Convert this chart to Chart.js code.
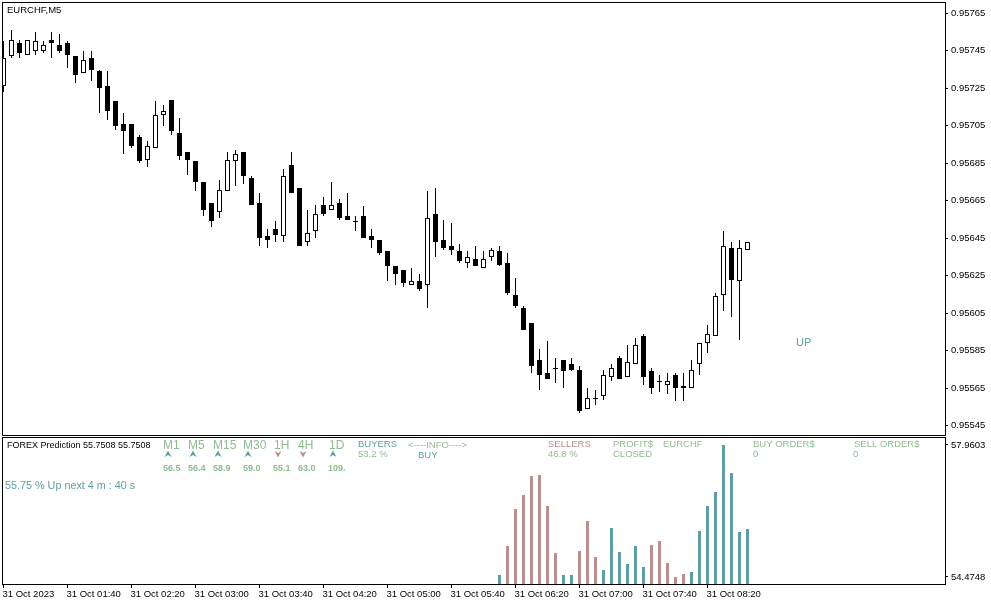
<!DOCTYPE html>
<html>
<head>
<meta charset="utf-8">
<title>EURCHF,M5</title>
<script src="https://cdn.jsdelivr.net/npm/chart.js@4/dist/chart.umd.min.js"></script>
<style>
  html, body { margin: 0; padding: 0; background: #fff; overflow: hidden; }
  canvas { position: absolute; left: 0; display: block; }
  #priceChart { top: 0; }
  #predictionChart { top: 436px; }
</style>
</head>
<body>
<canvas id="priceChart" width="991" height="436"></canvas>
<canvas id="predictionChart" width="991" height="169"></canvas>
<script>
// candles, prices in points (1 point = 0.00001)
const opens = [95726, 95742, 95749, 95743, 95745, 95745, 95751, 95748, 95749, 95742, 95733, 95741, 95734, 95726, 95718, 95706, 95706, 95699, 95687, 95693, 95711, 95719, 95701, 95691,
  95686, 95675, 95664, 95659, 95670, 95686, 95691, 95677, 95664, 95646, 95650, 95646, 95684, 95672, 95643, 95649, 95663, 95660, 95664, 95657, 95654, 95657, 95646,
  95644, 95638, 95630, 95628, 95620, 95622, 95620, 95658, 95644, 95641, 95638, 95632, 95634, 95629, 95635, 95638, 95632, 95615, 95608, 95600, 95580, 95573, 95576, 95580,
  95578, 95575, 95554, 95560, 95561, 95571, 95581, 95571, 95578, 95593, 95574, 95569, 95567, 95572, 95565, 95565, 95578, 95589, 95593, 95615, 95640, 95622, 95639];
const highs = [95750, 95756, 95751, 95751, 95755, 95750, 95755, 95754, 95750, 95742, 95745, 95745, 95735, 95734, 95718, 95712, 95706, 95700, 95697, 95718, 95716, 95719, 95709, 95691,
  95686, 95675, 95664, 95676, 95691, 95692, 95691, 95678, 95669, 95650, 95654, 95682, 95691, 95672, 95660, 95663, 95667, 95675, 95666, 95669, 95657, 95662, 95650,
  95644, 95638, 95630, 95628, 95629, 95626, 95670, 95672, 95655, 95653, 95642, 95638, 95641, 95638, 95640, 95641, 95637, 95624, 95609, 95600, 95586, 95590, 95581, 95580,
  95581, 95577, 95565, 95564, 95575, 95578, 95582, 95588, 95592, 95594, 95576, 95572, 95573, 95573, 95573, 95580, 95589, 95599, 95616, 95649, 95643, 95644, 95643];
const lows = [95723, 95741, 95741, 95743, 95743, 95744, 95741, 95744, 95736, 95728, 95733, 95729, 95712, 95708, 95703, 95690, 95693, 95685, 95683, 95693, 95705, 95700, 95687, 95679,
  95670, 95657, 95651, 95656, 95670, 95673, 95674, 95663, 95641, 95640, 95643, 95643, 95669, 95641, 95641, 95645, 95657, 95660, 95655, 95655, 95649, 95645, 95640,
  95636, 95622, 95620, 95619, 95620, 95617, 95608, 95635, 95639, 95636, 95632, 95629, 95630, 95629, 95633, 95630, 95615, 95608, 95596, 95573, 95564, 95570, 95568, 95565,
  95574, 95552, 95554, 95556, 95559, 95569, 95570, 95571, 95578, 95567, 95562, 95563, 95562, 95558, 95558, 95565, 95572, 95584, 95593, 95606, 95603, 95591, 95639];
const closes = [95741, 95751, 95744, 95751, 95750, 95748, 95749, 95745, 95743, 95732, 95740, 95735, 95725, 95713, 95705, 95702, 95694, 95686, 95694, 95711, 95713, 95702, 95689, 95687,
  95675, 95660, 95654, 95671, 95687, 95690, 95678, 95663, 95645, 95644, 95647, 95678, 95669, 95641, 95648, 95658, 95658, 95663, 95656, 95655, 95654, 95645, 95644,
  95637, 95630, 95626, 95621, 95622, 95618, 95656, 95643, 95640, 95639, 95633, 95635, 95630, 95634, 95639, 95631, 95616, 95609, 95596, 95577, 95572, 95570, 95576, 95574,
  95575, 95553, 95560, 95560, 95572, 95576, 95570, 95579, 95588, 95571, 95565, 95569, 95569, 95565, 95566, 95575, 95589, 95594, 95614, 95641, 95623, 95640, 95643];

const priceTicks = [95765, 95745, 95725, 95705, 95685, 95665, 95645, 95625, 95605, 95585, 95565, 95545];
const timeLabels = ['31 Oct 2023', '31 Oct 01:40', '31 Oct 02:20', '31 Oct 03:00', '31 Oct 03:40', '31 Oct 04:20',
  '31 Oct 05:00', '31 Oct 05:40', '31 Oct 06:20', '31 Oct 07:00', '31 Oct 07:40', '31 Oct 08:20'];

// prediction histogram, starts at candle 62
const histValues = [54.527, 55.293, 56.270, 56.640, 57.142, 57.168, 56.350, 55.108, 54.527, 54.527, 55.161, 55.953, 55.003, 54.659, 55.769, 55.135,
  54.818, 55.293, 54.739, 55.320, 55.425, 54.844, 54.4748, 54.554, 54.606, 55.689, 56.350, 56.719, 57.9603, 57.221, 55.663, 55.7508];
const histSignals = ['up', 'down', 'down', 'down', 'down', 'down', 'down', 'down', 'up', 'up', 'down', 'down', 'down', 'up', 'up', 'up',
  'up', 'up', 'up', 'down', 'down', 'down', 'down', 'down', 'up', 'up', 'up', 'up', 'up', 'up', 'up', 'up'];
const histTicks = [57.9603, 54.4748];

const teal = '#5f9ea0';
const rosy = '#bc8f8f';
const sea = '#8fbc8f';
const tickFont = { family: '"Liberation Sans"', size: 9.5 };
const barsPerTick = 8;
const xMin = -0.1875, xMax = 117.6875;   // 8 px per bar

// text placed on the panels (page coordinates)
const priceTexts = [
  { t: 'EURCHF,M5', x: 7, y: 10, c: '#000', f: '9.5px "Liberation Sans"' },
  { t: 'UP', x: 796, y: 343, c: teal, f: '11px "Liberation Sans"' }
];
const small = '9.5px "Liberation Sans"';
const tf = '12px "Liberation Sans"';
const num = 'bold 9px "Liberation Sans"';
const predictionTexts = [
  { t: 'FOREX Prediction 55.7508 55.7508', x: 7, y: 446, c: '#000', f: '9px "Liberation Sans"' },
  { t: '55.75 % Up next 4 m : 40 s', x: 5, y: 486, c: teal, f: '10.8px "Liberation Sans"' },
  { t: 'M1', x: 163, y: 446, c: sea, f: tf }, { t: 'M5', x: 188, y: 446, c: sea, f: tf },
  { t: 'M15', x: 213, y: 446, c: sea, f: tf }, { t: 'M30', x: 243, y: 446, c: sea, f: tf },
  { t: '1H', x: 274, y: 446, c: sea, f: tf }, { t: '4H', x: 298, y: 446, c: sea, f: tf },
  { t: '1D', x: 329, y: 446, c: sea, f: tf },
  { t: '56.5', x: 163, y: 469, c: sea, f: num }, { t: '56.4', x: 188, y: 469, c: sea, f: num },
  { t: '58.9', x: 213, y: 469, c: sea, f: num }, { t: '59.0', x: 243, y: 469, c: sea, f: num },
  { t: '55.1', x: 273, y: 469, c: sea, f: num }, { t: '63.0', x: 298, y: 469, c: sea, f: num },
  { t: '109.', x: 328, y: 469, c: sea, f: num },
  { t: 'BUYERS', x: 358, y: 444, c: teal, f: small }, { t: '53.2 %', x: 358, y: 454, c: sea, f: small },
  { t: '<----INFO---->', x: 408, y: 445, c: sea, f: small }, { t: 'BUY', x: 418, y: 455, c: teal, f: small },
  { t: 'SELLERS', x: 548, y: 444, c: rosy, f: small }, { t: '46.8 %', x: 548, y: 454, c: sea, f: small },
  { t: 'PROFIT$', x: 613, y: 444, c: sea, f: small }, { t: 'CLOSED', x: 613, y: 454, c: sea, f: small },
  { t: 'EURCHF', x: 663, y: 444, c: sea, f: small },
  { t: 'BUY ORDER$', x: 753, y: 444, c: sea, f: small }, { t: '0', x: 753, y: 454, c: sea, f: small },
  { t: 'SELL ORDER$', x: 854, y: 444, c: sea, f: small }, { t: '0', x: 853, y: 454, c: sea, f: small }
];
const arrows = [
  { x: 168, up: true }, { x: 193, up: true }, { x: 218, up: true }, { x: 248, up: true },
  { x: 278, up: false }, { x: 303, up: false }, { x: 333, up: true }
];

// frame, text and pixel snapping shared by both panels
function panelPlugin(texts, offsetY, drawArrows) {
  return {
    id: 'panel',
    beforeDatasetsDraw(chart) {
      chart.getSortedVisibleDatasetMetas().forEach(meta => {
        meta.data.forEach(bar => {
          bar.y = Math.round(bar.y);
          bar.base = Math.round(bar.base);
          if (bar.y === bar.base) bar.base += 1;
        });
      });
    },
    afterDraw(chart) {
      const ctx = chart.ctx, a = chart.chartArea;
      ctx.save();
      ctx.strokeStyle = '#000';
      ctx.lineWidth = 1;
      ctx.strokeRect(a.left + 0.5, a.top + 0.5, a.right - a.left, a.bottom - a.top);
      ctx.textBaseline = 'middle';
      ctx.textAlign = 'left';
      texts.forEach(l => {
        ctx.font = l.f;
        ctx.fillStyle = l.c;
        ctx.fillText(l.t, l.x, l.y - offsetY);
      });
      if (drawArrows) {
        arrows.forEach(w => {
          const y = 454 - offsetY, d = w.up ? 1 : -1;
          ctx.fillStyle = w.up ? teal : rosy;
          ctx.beginPath();
          ctx.moveTo(w.x, y - 3.5 * d);
          ctx.lineTo(w.x + 3.5, y + 3 * d);
          ctx.lineTo(w.x, y + 1 * d);
          ctx.lineTo(w.x - 3.5, y + 3 * d);
          ctx.closePath();
          ctx.fill();
        });
      }
      ctx.restore();
    }
  };
}

function rightAxis(min, max, values, format) {
  return {
    position: 'right',
    min: min,
    max: max,
    afterBuildTicks: scale => { scale.ticks = values.map(v => ({ value: v })); },
    afterFit: scale => {
      scale.width = 46;
      scale.paddingTop = 0;
      scale.paddingBottom = 0;
    },
    border: { display: false },
    grid: { drawOnChartArea: false, tickLength: 3, tickColor: '#000' },
    ticks: { color: '#000', font: tickFont, padding: 3, autoSkip: false, callback: format }
  };
}

new Chart(document.getElementById('priceChart'), {
  type: 'bar',
  data: {
    datasets: [
      {
        label: 'wick',
        order: 2,
        barThickness: 1,
        backgroundColor: '#000',
        data: highs.map((h, i) => ({ x: i, y: [lows[i], h] }))
      },
      {
        label: 'body',
        order: 1,
        barThickness: 5,
        borderWidth: 1,
        borderColor: '#000',
        borderSkipped: false,
        backgroundColor: opens.map((o, i) => (closes[i] > o ? '#fff' : '#000')),
        data: opens.map((o, i) => ({ x: i, y: [o, closes[i]] }))
      }
    ]
  },
  options: {
    responsive: false,
    animation: false,
    events: [],
    grouped: false,
    inflateAmount: 0,
    layout: { autoPadding: false, padding: { left: 2, top: 2, right: 0, bottom: 1 } },
    plugins: { legend: { display: false }, tooltip: { enabled: false } },
    scales: {
      x: {
        type: 'linear',
        offset: false,
        grid: { offset: false },
        min: xMin,
        max: xMax,
        display: false
      },
      y: rightAxis(95540.09, 95771.03, priceTicks, v => (v / 100000).toFixed(5))
    }
  },
  plugins: [panelPlugin(priceTexts, 0, false)]
});

new Chart(document.getElementById('predictionChart'), {
  type: 'bar',
  data: {
    datasets: [
      {
        label: 'prediction',
        barThickness: 3,
        backgroundColor: histSignals.map(s => (s === 'up' ? teal : rosy)),
        data: histValues.map((v, i) => ({ x: 62 + i, y: v }))
      }
    ]
  },
  options: {
    responsive: false,
    animation: false,
    events: [],
    grouped: false,
    inflateAmount: 0,
    layout: { autoPadding: false, padding: { left: 2, top: 1, right: 0, bottom: 0 } },
    plugins: { legend: { display: false }, tooltip: { enabled: false } },
    scales: {
      x: {
        type: 'linear',
        offset: false,
        min: xMin,
        max: xMax,
        afterBuildTicks: scale => { scale.ticks = timeLabels.map((_, i) => ({ value: i * barsPerTick })); },
        afterFit: scale => { scale.height = 21; },
        border: { display: false },
        grid: { offset: false, drawOnChartArea: false, tickLength: 4, tickColor: '#000' },
        ticks: {
          color: '#000',
          font: tickFont,
          align: 'start',
          labelOffset: -1,
          padding: 1,
          maxRotation: 0,
          autoSkip: false,
          callback: (v, i) => timeLabels[i]
        }
      },
      y: rightAxis(54.29, 58.17, histTicks, v => v.toFixed(4))
    }
  },
  plugins: [panelPlugin(predictionTexts, 436, true)]
});
</script>
</body>
</html>
